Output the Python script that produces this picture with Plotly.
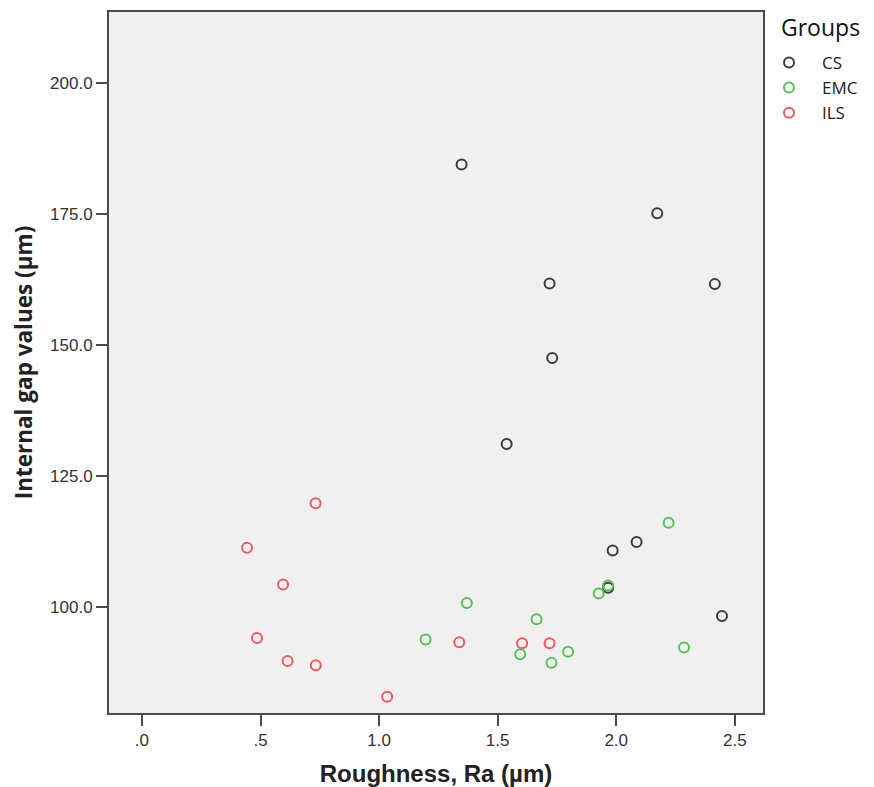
import plotly.graph_objects as go

# Data
cs_x = [1.348, 2.173, 1.719, 2.416, 1.730, 1.538, 2.086, 1.985, 1.966, 2.446]
cs_y = [184.4, 175.1, 161.7, 161.6, 147.5, 131.1, 112.4, 110.8, 103.7, 98.3]

emc_x = [1.196, 1.370, 1.595, 1.664, 1.727, 1.797, 1.926, 1.966, 2.221, 2.286]
emc_y = [93.8, 100.8, 91.0, 97.7, 89.4, 91.5, 102.6, 104.1, 116.1, 92.3]

ils_x = [0.732, 0.443, 0.595, 0.485, 0.614, 0.733, 1.034, 1.338, 1.603, 1.719]
ils_y = [119.8, 111.3, 104.3, 94.1, 89.7, 88.9, 82.9, 93.3, 93.1, 93.1]

x_tickvals = [0.0, 0.5, 1.0, 1.5, 2.0, 2.5]
x_ticktext = [".0", ".5", "1.0", "1.5", "2.0", "2.5"]
y_tickvals = [100, 125, 150, 175, 200]
y_ticktext = ["100.0", "125.0", "150.0", "175.0", "200.0"]

groups = [
    ("CS", cs_x, cs_y, "#3c3c3c"),
    ("EMC", emc_x, emc_y, "#55c255"),
    ("ILS", ils_x, ils_y, "#ee5a60"),
]

fig = go.Figure()
for name, xs, ys, col in groups:
    fig.add_trace(go.Scatter(
        x=xs, y=ys, mode="markers", name=name,
        marker=dict(symbol="circle-open", size=10, color=col,
                    line=dict(width=2, color=col)),
    ))

axis_common = dict(
    showgrid=False, zeroline=False, showline=True, mirror=True,
    linecolor="#4a4a4a", linewidth=2, ticks="outside", ticklen=11,
    tickcolor="#4a4a4a", tickwidth=2,
    tickfont=dict(family="Liberation Sans", size=17, color="#333333"),
)

fig.update_layout(
    width=858, height=779,
    margin=dict(l=101, r=103, t=4, b=74, autoexpand=False),
    paper_bgcolor="white", plot_bgcolor="#f0f0f0",
    xaxis=dict(range=[-0.139, 2.619], tickvals=x_tickvals, ticktext=x_ticktext,
               title=dict(text="<b>Roughness, Ra (µm)</b>",
                          font=dict(family="Liberation Sans", size=24, color="#222222"),
                          standoff=18),
               **axis_common),
    yaxis=dict(range=[79.8, 213.5], tickvals=y_tickvals, ticktext=y_ticktext,
               title=dict(text="<b>Internal gap values (µm)</b>",
                          font=dict(family="Open Sans", size=22.5, color="#222222"),
                          standoff=11),
               **axis_common),
    legend=dict(
        font=dict(family="Open Sans", size=17, color="#222222"),
        x=0.9893, y=0.953, xanchor="left", yanchor="top",
        bgcolor="rgba(0,0,0,0)", tracegroupgap=0, itemwidth=56,
    ),
    showlegend=True,
    annotations=[dict(
        text="Groups", xref="paper", yref="paper", x=1.024, y=0.9786,
        xanchor="left", yanchor="middle", showarrow=False,
        font=dict(family="Open Sans", size=23, color="#111111"),
    )],
)

fig.write_html("out.html")
